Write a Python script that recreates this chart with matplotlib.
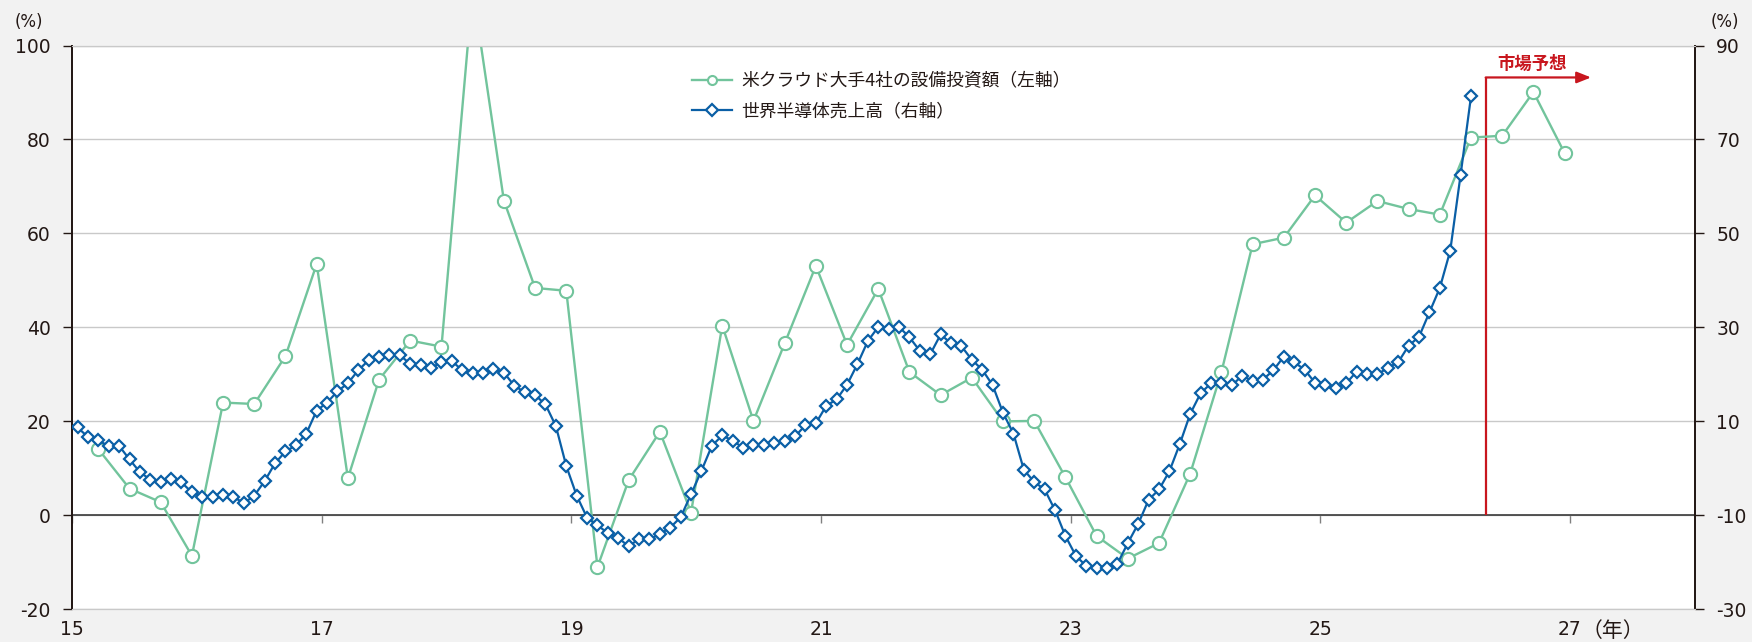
import numpy as np
import matplotlib
matplotlib.use("Agg")
import matplotlib.pyplot as plt
from matplotlib.lines import Line2D

plt.rcParams['font.family'] = ['DejaVu Sans', 'Noto Sans CJK JP']

# quarterly capex growth of 4 big US cloud companies (left axis, %), Q1 2015 onward
capex = [14.1, 5.7, 2.8, -8.6, 24.0, 23.7, 33.9, 53.5,
         7.9, 28.9, 37.2, 35.9, 112.0, 67.0, 48.4, 47.8,
         -11.0, 7.5, 17.8, 0.6, 40.4, 20.1, 36.6, 53.1,
         36.3, 48.2, 30.5, 25.6, 29.3, 20.0, 20.1, 8.1,
         -4.4, -9.2, -5.9, 8.9, 30.5, 57.7, 59.1, 68.1,
         62.3, 66.9, 65.2, 64.0, 80.4, 80.8, 90.1, 77.1]

# monthly world semiconductor sales growth (right axis, %), Jan 2015 onward
semi = [8.7, 6.7, 6.0, 4.7, 4.8, 1.9, -0.8, -2.4, -2.8, -2.3, -3.0, -5.1,
        -6.0, -6.0, -5.6, -6.1, -7.4, -5.8, -2.7, 1.1, 3.6, 4.9, 7.4, 12.3,
        14.0, 16.4, 18.1, 20.9, 23.0, 23.8, 24.2, 24.1, 22.2, 21.9, 21.4, 22.6,
        22.8, 20.9, 20.3, 20.2, 21.1, 20.4, 17.6, 16.2, 15.6, 13.6, 9.0, 0.5,
        -5.8, -10.5, -12.1, -13.8, -14.8, -16.6, -15.0, -15.1, -14.0, -12.6, -10.4, -5.5,
        -0.5, 4.8, 7.0, 5.9, 4.4, 4.9, 4.9, 5.4, 5.9, 6.8, 9.2, 9.6,
        13.3, 14.7, 17.8, 22.2, 27.1, 30.1, 29.6, 30.1, 27.9, 25.0, 24.3, 28.5,
        26.6, 26.0, 23.1, 21.0, 17.7, 11.8, 7.4, -0.3, -2.9, -4.5, -8.9, -14.4,
        -18.6, -20.8, -21.2, -21.2, -20.3, -15.9, -11.8, -6.7, -4.5, -0.6, 5.2, 11.6,
        16.0, 18.1, 18.1, 17.7, 19.7, 18.6, 18.9, 20.9, 23.8, 22.6, 21.0, 18.2,
        17.8, 17.0, 18.1, 20.6, 20.0, 20.0, 21.4, 22.6, 26.1, 28.0, 33.2, 38.4,
        46.3, 62.5, 79.2]

year_ticks = [15, 17, 19, 21, 23, 25, 27]
left_ticks = [-20, 0, 20, 40, 60, 80, 100]
right_ticks = [-30, -10, 10, 30, 50, 70, 90]
forecast_start = 26.33
forecast_arrow_end = 27.17
forecast_level = 93.2

label_capex = "米クラウド大手4社の設備投資額（左軸）"
label_semi = "世界半導体売上高（右軸）"

green = '#72c49c'
blue = '#0a5fa6'
red = '#c8161e'
dark = '#231815'
grid_c = '#c9c9c9'

x_semi = 15 + (np.arange(len(semi)) + 0.5) / 12
x_capex = 15 + (np.arange(len(capex)) * 3 + 2.5) / 12

fig = plt.figure(figsize=(17.52, 6.42), dpi=100, facecolor='#f2f2f2')
ax = fig.add_axes([0.04127, 0.05093, 0.92597, 0.87819])
ax.set_facecolor('white')
ax2 = ax.twinx()

ax.set_xlim(15, 28)
ax.set_ylim(-20, 100)
ax2.set_ylim(-30, 90)

ax.plot(x_capex, capex, color=green, lw=1.7, marker='o', ms=9.5, mfc='white',
        mec=green, mew=1.5, zorder=3)
ax2.plot(x_semi, semi, color=blue, lw=1.6, marker='D', ms=6.0, mfc='white',
         mec=blue, mew=1.6, zorder=3)

# grid, zero line
ax.set_yticks(left_ticks)
ax.set_yticklabels([str(v) for v in left_ticks])
ax2.set_yticks(right_ticks)
ax2.set_yticklabels([str(v) for v in right_ticks])
ax.yaxis.grid(True, color=grid_c, lw=1.0, zorder=0)
ax.set_axisbelow(True)
ax.axhline(0, color='#3a3a3a', lw=1.2, zorder=1.5)

for a in (ax, ax2):
    a.spines['top'].set_color(grid_c)
    a.spines['bottom'].set_color(grid_c)
    a.spines['left'].set_color(dark)
    a.spines['right'].set_color(dark)
    a.spines['left'].set_linewidth(1.3)
    a.spines['right'].set_linewidth(1.3)
    a.tick_params(axis='y', length=6.5, width=1.0, color=dark, pad=9,
                  labelsize=13.5, labelcolor=dark)

ax.set_xticks(year_ticks)
ax.set_xticklabels([str(y) for y in year_ticks])
ax.tick_params(axis='x', length=0, pad=8, labelsize=13.5, labelcolor=dark)

# small tick marks hanging from the zero line
sec = ax.secondary_xaxis(20 / 120)
sec.set_xticks(year_ticks)
sec.tick_params(axis='x', direction='out', length=6, width=1.0, color='#808080',
                labelbottom=False)
sec.spines['bottom'].set_visible(False)

ax.text(27.09, -0.039, "（年）", transform=ax.get_xaxis_transform(),
        ha='left', va='center', fontsize=15, color=dark, family=['Noto Sans CJK JP'])

fig.text(15 / 1752, 1 - 22 / 642, "(%)", ha='left', va='center', fontsize=12, color=dark)
fig.text(1711 / 1752, 1 - 22 / 642, "(%)", ha='left', va='center', fontsize=12, color=dark)

# market forecast marker
ax.vlines(forecast_start, 0, forecast_level, color=red, lw=1.6, zorder=2)
ax.annotate('', xy=(forecast_arrow_end, forecast_level), xytext=(forecast_start - 0.004, forecast_level),
            arrowprops=dict(arrowstyle='-|>,head_length=0.85,head_width=0.34', color=red,
                            lw=1.6, shrinkA=0, shrinkB=0, mutation_scale=10), zorder=2)
ax.text(26.70, 96.0, "市場予想", ha='center', va='center', fontsize=12.5, color=red,
        fontweight='bold', family=['Noto Sans CJK JP'])

handles = [Line2D([], [], color=green, lw=1.7, marker='o', ms=6.5, mfc='white', mec=green, mew=1.5),
           Line2D([], [], color=blue, lw=1.6, marker='D', ms=5.8, mfc='white', mec=blue, mew=1.6)]
leg = ax2.legend(handles, [label_capex, label_semi], loc='upper left',
                 bbox_to_anchor=(692 / 1752, 1 - 72 / 642), bbox_transform=fig.transFigure,
                 frameon=False, borderpad=0, borderaxespad=0, handlelength=2.25,
                 handletextpad=0.5, labelspacing=0.68,
                 prop={'family': ['Noto Sans CJK JP'], 'size': 12.8})
for t in leg.get_texts():
    t.set_color(dark)

fig.savefig('out.png', dpi=100, facecolor=fig.get_facecolor())
